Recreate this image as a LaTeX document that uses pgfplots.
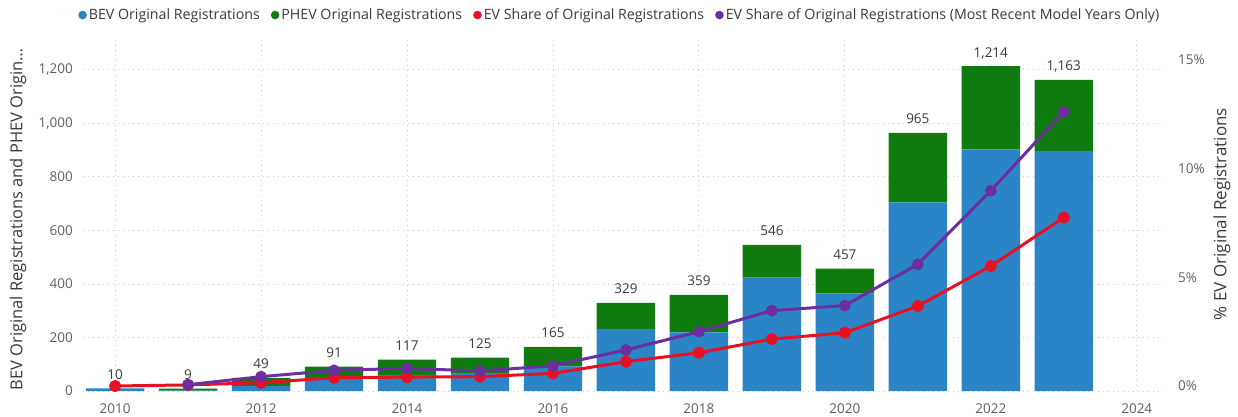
\documentclass[border=0pt]{standalone}
\usepackage{pgfplots}
\pgfplotsset{compat=1.18}
\usepackage{pgfplotstable}
\usepackage{fontspec}
\setmainfont{Open Sans}
\definecolor{bevblue}{HTML}{2A84C6}
\definecolor{phevgreen}{HTML}{107C10}
\definecolor{evred}{HTML}{E81123}
\definecolor{evpurple}{HTML}{6B2FA0}
\definecolor{ticktxt}{HTML}{605E5C}
\definecolor{titletxt}{HTML}{3B3A39}
\definecolor{gridc}{HTML}{CFCFCF}

\pgfplotstableread{
year bev phev total
2010 10 0 10
2011 1 8 9
2012 19 30 49
2013 45 46 91
2014 60 57 117
2015 67 58 125
2016 92 73 165
2017 232 97 329
2018 219 140 359
2019 424 122 546
2020 365 92 457
2021 705 260 965
2022 903 311 1214
2023 897 266 1163
}\regtable

\pgfplotstableread{
year share
2010 0.00
2011 0.05
2012 0.15
2013 0.38
2014 0.41
2015 0.43
2016 0.58
2017 1.12
2018 1.53
2019 2.16
2020 2.45
2021 3.68
2022 5.52
2023 7.75
}\sharetable

\pgfplotstableread{
year share
2011 0.06
2012 0.43
2013 0.72
2014 0.81
2015 0.69
2016 0.93
2017 1.66
2018 2.50
2019 3.47
2020 3.70
2021 5.60
2022 8.99
2023 12.62
}\recenttable

\begin{document}
\begin{tikzpicture}
\path[use as bounding box] (0pt,0pt) rectangle (1238pt,416pt);
\begin{axis}[
  at={(83pt,25pt)}, anchor=south west,
  width=1080pt, height=354pt, scale only axis,
  xmin=2009.56, xmax=2024.36,
  ymin=0, ymax=1323,
  ybar stacked, bar width=0.8,
  axis line style={draw=none},
  major tick length=0pt,
  xtick={2010,2012,...,2024},
  ytick={0,200,...,1200},
  scaled y ticks=false,
  /pgf/number format/assume math mode=true,
  xticklabel style={/pgf/number format/1000 sep={}, font=\fontsize{13.5}{16}\selectfont, text=ticktxt, anchor=base, inner sep=0pt, yshift=-22pt},
  yticklabel style={/pgf/number format/1000 sep={,}, font=\fontsize{13.5}{16}\selectfont, text=ticktxt, anchor=east, inner sep=0pt, xshift=-10pt},
  xmajorgrids, ymajorgrids,
  major grid style={draw=gridc, line width=0.9pt, dash pattern=on 0.9pt off 4.1pt},
  ylabel={BEV Original Registrations and PHEV Origin\ldots},
  ylabel style={at={(axis description cs:-0.060,0.485)}, anchor=center, font=\fontsize{16.5}{18}\selectfont, text=titletxt},
]
\addplot[fill=bevblue, draw=none] table[x=year, y=bev] {\regtable};
\addplot[fill=phevgreen, draw=none] table[x=year, y=phev] {\regtable};
\end{axis}
\begin{axis}[
  at={(83pt,25pt)}, anchor=south west,
  width=1080pt, height=354pt, scale only axis,
  xmin=2009.56, xmax=2024.36,
  ymin=0, ymax=1323,
  hide axis,
  clip=false,
]
\addplot[only marks, mark=none, point meta=explicit,
  nodes near coords={\pgfmathprintnumber[1000 sep={,},assume math mode=true]{\pgfplotspointmeta}},
  every node near coord/.append style={anchor=base, yshift=9pt, inner sep=0pt, font=\fontsize{13.5}{16}\selectfont, text=titletxt}]
  table[x=year, y=total, meta=total] {\regtable};
\end{axis}
\begin{axis}[
  at={(83pt,25pt)}, anchor=south west,
  width=1080pt, height=354pt, scale only axis,
  xmin=2009.56, xmax=2024.36,
  ymin=-0.23, ymax=16.06,
  axis x line=none,
  axis y line*=right,
  axis line style={draw=none},
  major tick length=0pt,
  ytick={0,5,10,15},
  /pgf/number format/assume math mode=true,
  yticklabel={\pgfmathprintnumber{\tick}\%},
  yticklabel style={font=\fontsize{13.5}{16}\selectfont, text=ticktxt, anchor=west, inner sep=0pt, xshift=15pt},
  ylabel={\% EV Original Registrations},
  ylabel style={at={(axis description cs:1.0546,0.50)}, anchor=center, font=\fontsize{17}{19}\selectfont, text=titletxt},
  legend columns=4,
  legend style={at={(0.497,1.062)}, anchor=center, draw=none, fill=none,
    font=\fontsize{14.2}{16}\selectfont, text=titletxt,
    /tikz/every even column/.append style={column sep=9pt},
    inner sep=0pt},
  legend image code/.code={\fill[#1] (5pt,0pt) circle (4.3pt);},
]
\addlegendimage{fill=bevblue, draw=none}
\addlegendentry{BEV Original Registrations}
\addlegendimage{fill=phevgreen, draw=none}
\addlegendentry{PHEV Original Registrations}
\addlegendimage{fill=evred, draw=none}
\addlegendentry{EV Share of Original Registrations}
\addlegendimage{fill=evpurple, draw=none}
\addlegendentry{EV Share of Original Registrations (Most Recent Model Years Only)}
\addplot[evred, line width=3pt, mark=*, mark size=4.5pt, mark options={solid, fill=evred, draw=none}, forget plot]
  table[x=year, y=share] {\sharetable};
\addplot[evpurple, line width=3pt, mark=*, mark size=4.3pt, mark options={solid, fill=evpurple, draw=none}, forget plot]
  table[x=year, y=share] {\recenttable};
\end{axis}
\end{tikzpicture}
\end{document}
